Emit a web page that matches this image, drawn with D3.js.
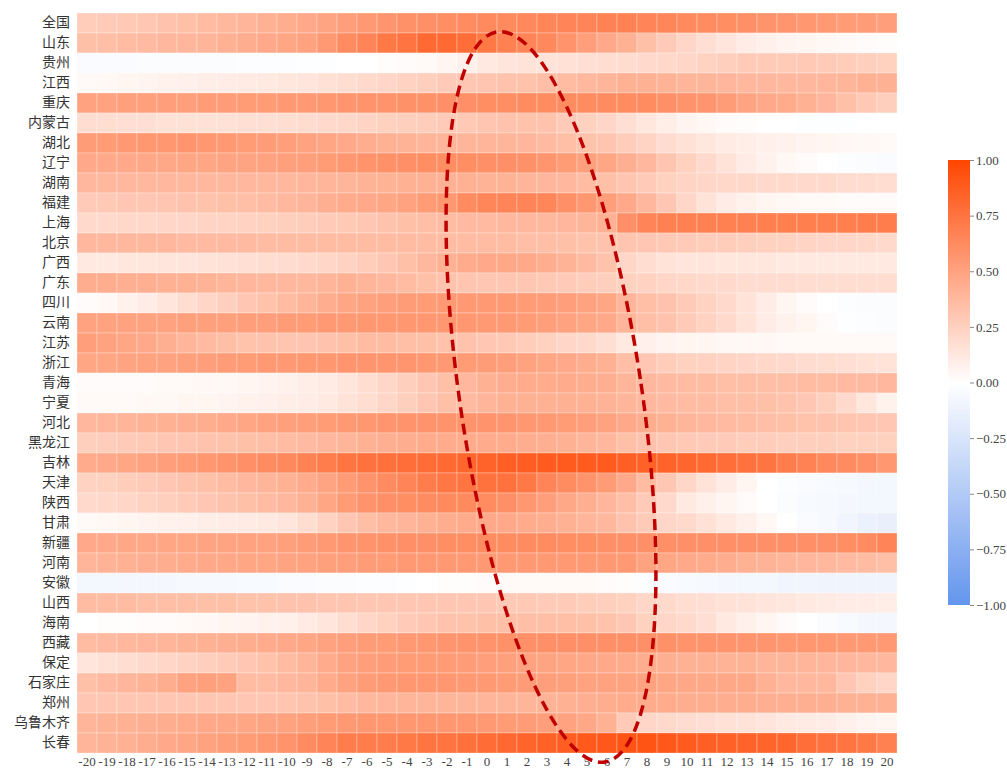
<!DOCTYPE html>
<html>
<head>
<meta charset="utf-8">
<script src="https://cdn.jsdelivr.net/npm/d3@7"></script>
<style>
  body { margin: 0; background: #fff; }
  svg text { font-family: "Liberation Serif", "DejaVu Serif", "Noto Sans CJK SC", serif; }
</style>
</head>
<body>
<svg width="1007" height="770"></svg>
<script>
// DATA ////////////////////////////////////////////////////////////////////////
const lags = d3.range(-20, 21);
const regions = ['全国','山东','贵州','江西','重庆','内蒙古','湖北','辽宁','湖南','福建','上海','北京',
  '广西','广东','四川','云南','江苏','浙江','青海','宁夏','河北','黑龙江','吉林','天津','陕西',
  '甘肃','新疆','河南','安徽','山西','海南','西藏','保定','石家庄','郑州','乌鲁木齐','长春'];
const colorTicks = [1, 0.75, 0.5, 0.25, 0, -0.25, -0.5, -0.75, -1];

// one row per region, columns are lags -20 .. 20
const values = [
  [.27,.28,.29,.30,.32,.34,.36,.38,.40,.42, .44,.46,.49,.52,.55,.57,.59,.60,.61,.62, .63,.63,.64,.65,.66,.66,.67,.67,.66,.65,.63, .62,.61,.60,.58,.57,.56,.55,.54,.53,.52],
  [.34,.35,.36,.37,.38,.39,.40,.42,.44,.46, .48,.50,.55,.62,.66,.72,.75,.80,.80,.78, .72,.68,.66,.64,.58,.52,.46,.42,.34,.28,.22, .17,.14,.10,.08,.06,.05,.04,.03,.02,.01],
  [-.04,-.04,-.04,-.03,-.03,-.03,-.03,-.03,-.02,-.02, -.02,-.01,-.01,0,0,.01,.02,.03,.05,.08, .12,.14,.15,.15,.16,.17,.18,.19,.20,.21,.22, .24,.26,.28,.28,.28,.29,.28,.27,.26,.25],
  [.03,.04,.05,.06,.07,.08,.09,.10,.11,.12, .13,.14,.16,.18,.20,.22,.24,.26,.28,.30, .31,.32,.33,.35,.36,.38,.40,.42,.42,.41,.40, .40,.39,.38,.38,.38,.38,.39,.40,.42,.42],
  [.50,.50,.51,.51,.52,.52,.53,.53,.54,.54, .55,.55,.56,.57,.58,.58,.59,.59,.60,.60, .61,.61,.62,.62,.62,.62,.62,.62,.62,.60,.58, .57,.53,.49,.46,.45,.42,.39,.34,.29,.26],
  [.18,.18,.17,.17,.16,.16,.16,.16,.17,.17, .18,.19,.20,.21,.23,.25,.26,.27,.28,.29, .31,.32,.33,.32,.28,.25,.22,.17,.13,.09,.06, .04,.02,.01,0,0,-.01,-.01,-.01,0,0],
  [.53,.54,.55,.56,.56,.57,.56,.55,.54,.53, .52,.50,.48,.46,.44,.42,.41,.40,.40,.40, .40,.40,.39,.37,.35,.33,.31,.27,.23,.19,.16, .13,.11,.09,.08,.07,.06,.05,.04,.04,.03],
  [.46,.46,.46,.47,.47,.48,.48,.49,.49,.50, .51,.52,.54,.56,.58,.59,.60,.61,.61,.61, .60,.60,.59,.57,.54,.51,.48,.43,.38,.31,.25, .20,.15,.10,.07,.04,.02,0,-.02,-.03,-.04],
  [.38,.38,.38,.38,.38,.38,.38,.38,.38,.38, .38,.39,.40,.40,.41,.41,.42,.42,.42,.42, .41,.41,.40,.39,.38,.36,.34,.31,.28,.25,.23, .22,.21,.21,.20,.20,.20,.20,.19,.19,.18],
  [.28,.29,.30,.30,.31,.32,.33,.34,.35,.36, .38,.40,.43,.45,.46,.48,.50,.54,.56,.62, .65,.66,.66,.65,.60,.56,.52,.46,.38,.30,.22, .15,.10,.07,.05,.04,.03,.03,.02,.02,.02],
  [.20,.20,.21,.21,.22,.22,.23,.23,.24,.25, .26,.27,.28,.29,.30,.32,.34,.35,.36,.37, .37,.38,.38,.38,.39,.40,.42,.60,.66,.68,.68, .68,.68,.68,.69,.69,.69,.69,.69,.70,.70],
  [.38,.38,.38,.38,.38,.37,.37,.37,.37,.36, .36,.36,.36,.36,.36,.36,.36,.36,.36,.36, .36,.36,.35,.35,.34,.33,.32,.31,.30,.29,.28, .27,.27,.26,.25,.24,.23,.22,.22,.21,.20],
  [.12,.12,.13,.13,.14,.14,.15,.16,.17,.18, .19,.20,.22,.24,.27,.30,.34,.38,.42,.45, .46,.47,.46,.44,.41,.37,.33,.22,.18,.15,.14, .14,.13,.13,.13,.12,.12,.12,.12,.12,.12],
  [.44,.44,.43,.43,.42,.42,.41,.40,.39,.38, .38,.38,.40,.42,.40,.38,.36,.34,.32,.31, .30,.30,.30,.29,.28,.27,.26,.25,.24,.22,.21, .20,.20,.19,.19,.19,.18,.18,.18,.18,.18],
  [.02,.04,.07,.10,.14,.18,.22,.26,.30,.33, .36,.40,.44,.48,.50,.52,.53,.54,.55,.55, .55,.55,.54,.53,.52,.50,.48,.40,.35,.32,.28, .24,.20,.15,.10,.05,.02,0,-.02,-.03,-.03],
  [.50,.50,.50,.50,.50,.51,.51,.51,.52,.52, .53,.54,.55,.55,.56,.56,.56,.56,.56,.56, .55,.55,.54,.52,.50,.48,.46,.40,.35,.32,.28, .24,.20,.15,.10,.07,.05,.02,-.01,-.02,-.03],
  [.52,.50,.48,.46,.43,.40,.37,.35,.33,.32, .31,.31,.32,.34,.36,.36,.35,.34,.33,.32, .30,.29,.27,.25,.22,.20,.17,.12,.08,.06,.05, .05,.04,.04,.04,.03,.03,.03,.03,.03,.03],
  [.48,.48,.49,.50,.50,.51,.52,.53,.54,.55, .55,.56,.56,.57,.57,.57,.57,.56,.55,.54, .53,.52,.50,.48,.46,.44,.42,.35,.30,.27,.25, .24,.23,.22,.21,.20,.19,.18,.17,.16,.15],
  [.02,.02,.02,.02,.03,.03,.04,.04,.05,.06, .07,.09,.11,.14,.18,.22,.26,.30,.34,.38, .42,.44,.45,.45,.45,.44,.43,.40,.38,.37,.36, .36,.35,.35,.35,.35,.36,.36,.37,.37,.38],
  [.03,.03,.03,.04,.04,.05,.05,.06,.07,.08, .09,.10,.12,.15,.18,.22,.26,.30,.34,.37, .40,.42,.42,.42,.42,.42,.41,.40,.38,.37,.36, .36,.35,.35,.34,.32,.30,.26,.20,.13,.07],
  [.38,.39,.40,.41,.42,.43,.44,.46,.48,.50, .51,.52,.54,.55,.56,.57,.58,.58,.58,.58, .58,.57,.56,.55,.54,.52,.50,.46,.44,.42,.40, .38,.37,.36,.35,.34,.33,.32,.31,.30,.30],
  [.26,.27,.28,.29,.30,.31,.32,.33,.34,.35, .36,.37,.38,.40,.42,.43,.44,.45,.45,.45, .45,.45,.44,.43,.42,.40,.38,.34,.32,.30,.29, .28,.28,.27,.27,.26,.26,.26,.25,.25,.25],
  [.45,.46,.48,.50,.52,.54,.56,.58,.60,.62, .64,.67,.70,.74,.76,.77,.78,.79,.80,.82, .84,.86,.87,.88,.88,.88,.88,.86,.85,.84,.82, .80,.78,.76,.74,.70,.67,.64,.62,.60,.56],
  [.24,.25,.27,.28,.30,.32,.34,.36,.38,.40, .42,.45,.49,.54,.58,.62,.66,.70,.73,.75, .76,.76,.72,.66,.62,.58,.54,.46,.36,.30,.22, .15,.10,.05,0,-.02,-.04,-.05,-.06,-.07,-.08],
  [.20,.21,.22,.24,.26,.28,.30,.32,.34,.36, .38,.42,.48,.54,.58,.60,.61,.62,.63,.63, .62,.60,.56,.52,.47,.43,.39,.35,.28,.20,.12, .08,.05,.02,0,-.03,-.05,-.06,-.07,-.08,-.08],
  [.03,.04,.05,.06,.07,.08,.09,.10,.11,.12, .14,.18,.24,.30,.35,.38,.40,.42,.44,.45, .46,.46,.45,.44,.42,.40,.38,.32,.28,.22,.20, .16,.12,.08,.04,0,-.04,-.06,-.09,-.12,-.14],
  [.46,.46,.47,.47,.48,.48,.49,.49,.50,.50, .51,.53,.55,.57,.58,.59,.60,.60,.61,.61, .62,.62,.62,.62,.61,.61,.60,.60,.60,.60,.60, .60,.60,.60,.60,.60,.60,.60,.61,.62,.66],
  [.40,.41,.42,.43,.44,.45,.46,.47,.48,.48, .49,.50,.51,.52,.53,.54,.55,.55,.55,.55, .55,.55,.55,.55,.55,.55,.55,.55,.50,.48,.46, .45,.44,.42,.41,.40,.39,.38,.37,.36,.35],
  [-.08,-.08,-.07,-.07,-.07,-.06,-.06,-.06,-.05,-.05, -.04,-.04,-.03,-.03,-.02,-.02,-.01,0,.01,.01, .02,.03,.03,.03,.03,.03,.02,.01,-.02,-.04,-.05, -.06,-.07,-.08,-.08,-.09,-.09,-.10,-.10,-.10,-.10],
  [.36,.36,.36,.35,.35,.35,.34,.34,.33,.33, .32,.32,.31,.31,.30,.30,.30,.30,.30,.30, .30,.29,.29,.28,.28,.27,.26,.25,.22,.20,.18, .17,.16,.15,.14,.13,.12,.11,.10,.10,.09],
  [.00,.01,.01,.02,.02,.03,.04,.05,.06,.07, .08,.11,.14,.18,.22,.25,.28,.30,.32,.33, .34,.35,.35,.35,.35,.34,.33,.30,.25,.22,.20, .17,.12,.08,.05,.02,0,-.03,-.05,-.07,-.07],
  [.36,.37,.38,.39,.40,.41,.42,.43,.44,.45, .46,.48,.50,.52,.53,.54,.55,.56,.57,.58, .58,.59,.60,.60,.60,.60,.60,.60,.60,.59,.58, .58,.58,.57,.57,.56,.56,.56,.55,.55,.55],
  [.14,.16,.18,.20,.22,.24,.26,.28,.30,.33, .36,.40,.45,.50,.52,.53,.54,.54,.54,.53, .52,.51,.50,.49,.48,.47,.46,.45,.44,.43,.42, .42,.41,.41,.40,.40,.40,.39,.39,.38,.38],
  [.34,.37,.39,.41,.44,.50,.51,.50,.36,.36, .38,.40,.45,.50,.53,.55,.56,.56,.56,.55, .55,.54,.53,.52,.51,.50,.50,.50,.50,.48,.47, .47,.47,.47,.42,.38,.38,.38,.30,.25,.22],
  [.30,.30,.30,.30,.30,.30,.30,.30,.30,.30, .31,.32,.34,.36,.38,.39,.40,.40,.40,.40, .40,.40,.40,.41,.42,.43,.44,.45,.45,.45,.44, .44,.44,.44,.43,.43,.43,.43,.42,.42,.42],
  [.40,.41,.42,.43,.44,.45,.46,.47,.48,.49, .50,.52,.54,.55,.56,.56,.56,.56,.56,.56, .55,.54,.53,.52,.50,.47,.42,.28,.22,.20,.19, .17,.16,.15,.14,.12,.11,.10,.08,.06,.05],
  [.40,.41,.42,.44,.46,.48,.50,.52,.54,.56, .58,.62,.66,.70,.70,.70,.72,.74,.75,.77, .79,.81,.83,.85,.87,.89,.90,.92,.92,.90,.88, .86,.85,.84,.83,.82,.78,.76,.75,.72,.68]
];

// SET PARAMETERS //////////////////////////////////////////////////////////////
const svg = d3.select('svg');
const margin = { top: 13, left: 77 };
const width = 820, height = 740;

const g = svg.append('g').attr('transform', `translate(${margin.left},${margin.top})`);

const x = d3.scaleBand().domain(lags).range([0, width]);
const y = d3.scaleBand().domain(regions).range([0, height]);
const color = d3.scaleLinear().domain([-1, 0, 1]).range(['#6495ED', '#ffffff', '#FF4500']);

// flatten for cells
const cells = [];
regions.forEach((r, i) => {
  lags.forEach((l, j) => cells.push({ region: r, lag: l, value: values[i][j] }));
});

// DRAW ////////////////////////////////////////////////////////////////////////
g.selectAll('.cell')
  .data(cells)
  .enter()
  .append('rect')
  .attr('class', 'cell')
  .attr('x', d => x(d.lag))
  .attr('y', d => y(d.region))
  .attr('width', x.bandwidth())
  .attr('height', y.bandwidth())
  .attr('fill', d => color(d.value))
  .attr('stroke', 'rgba(255,255,255,0.35)')
  .attr('stroke-width', 0.8);

// y labels
g.append('g')
  .call(d3.axisLeft(y).tickSize(0).tickPadding(7))
  .call(a => a.select('.domain').remove())
  .selectAll('text')
  .attr('fill', '#333')
  .style('font-size', '14px')
  .style('font-family', '"Noto Sans CJK SC", serif');

// x labels
g.append('g')
  .attr('transform', `translate(0,${height})`)
  .call(d3.axisBottom(x).tickSize(0).tickPadding(4))
  .call(a => a.select('.domain').remove())
  .selectAll('text')
  .attr('fill', '#444')
  .style('font-size', '13px');

// ellipse highlight
svg.append('ellipse')
  .attr('cx', 0).attr('cy', 0)
  .attr('rx', 91).attr('ry', 369)
  .attr('transform', 'translate(551,397) rotate(-8.4)')
  .attr('fill', 'none')
  .attr('stroke', '#c00000')
  .attr('stroke-width', 3.5)
  .attr('stroke-dasharray', '11,6');

// colorbar
const cb = { x: 948, y: 160, w: 22, h: 445 };
const cy = d3.scaleLinear().domain([1, -1]).range([0, cb.h]);

const grad = svg.append('defs').append('linearGradient')
  .attr('id', 'cbar').attr('x1', 0).attr('y1', 0).attr('x2', 0).attr('y2', 1);
d3.range(0, 1.0001, 0.05).forEach(t => {
  grad.append('stop').attr('offset', t).attr('stop-color', color(1 - 2 * t));
});

const cbg = svg.append('g').attr('transform', `translate(${cb.x},${cb.y})`);
cbg.append('rect')
  .attr('width', cb.w).attr('height', cb.h)
  .attr('fill', 'url(#cbar)');

cbg.append('g')
  .attr('transform', `translate(${cb.w},0)`)
  .call(d3.axisRight(cy).tickValues(colorTicks).tickFormat(d3.format('.2f')).tickSize(4).tickPadding(2))
  .call(a => a.select('.domain').remove())
  .call(a => a.selectAll('line').attr('stroke', '#888'))
  .selectAll('text')
  .attr('fill', '#444')
  .style('font-size', '13px');
</script>
</body>
</html>
